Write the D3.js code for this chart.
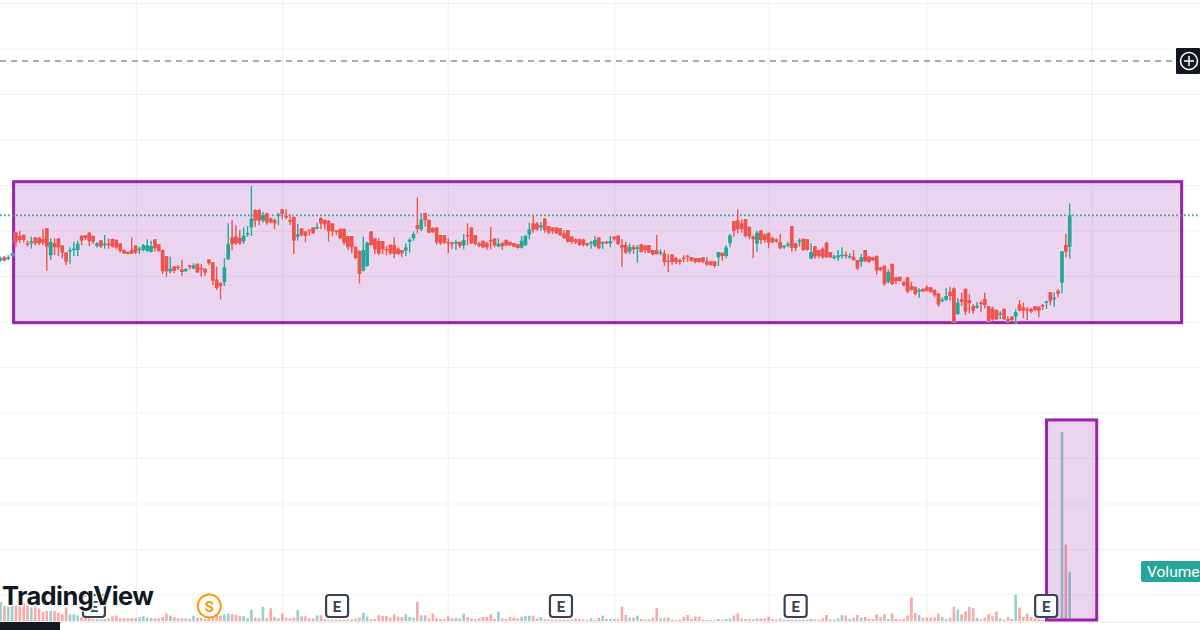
<!DOCTYPE html>
<html>
<head>
<meta charset="utf-8">
<script src="https://cdn.jsdelivr.net/npm/d3@7"></script>
<style>
html,body{margin:0;padding:0;background:#fff;overflow:hidden}
svg{display:block}
</style>
</head>
<body>
<svg id="chart" width="1200" height="630"></svg>
<script>
const opens=[230,238,234,245,313,302,306,280,280,297,
297,293,325,244,280,295,274,253,256,259,
260,303,305,312,303,272,289,276,279,293,
291,280,259,255,260,274,260,260,257,254,
292,277,260,242,196,211,210,202,196,214,
204,219,206,204,232,223,172,162,164,232,
298,300,296,286,308,328,380,380,348,370,
355,350,364,382,362,350,360,300,325,316,
321,328,324,356,350,348,340,318,324,324,
302,302,270,258,198,212,316,295,287,287,
263,276,275,264,260,258,284,295,335,322,
371,351,326,328,305,305,284,282,280,285,
274,305,328,305,280,288,282,290,295,270,
282,291,285,281,278,267,274,306,340,340,
328,355,332,328,328,326,310,320,300,292,
292,292,280,280,272,298,280,286,280,300,
303,275,275,255,270,263,278,273,275,260,
260,250,250,228,247,236,230,237,243,239,
236,236,238,226,226,226,238,252,242,280,
347,349,340,353,330,300,279,319,307,312,
296,292,284,270,276,332,280,287,294,293,
234,272,260,264,282,254,235,238,244,246,
239,240,230,224,260,240,238,243,208,213,
164,219,178,180,165,178,152,150,137,144,
148,148,140,130,108,110,135,145,68,112,
144,110,92,87,102,113,92,85,80,67,
84,53,60,60,97,88,83,83,92,90,
95,103,134,114,138,162,275,270];
const highs=[240,242,244,252,313,317,306,288,300,300,
300,322,325,295,295,295,274,253,268,285,
288,303,305,314,303,284,289,305,295,295,
291,280,262,255,298,274,270,278,292,288,
292,277,262,242,240,211,215,230,205,216,
220,219,218,206,232,223,210,162,235,340,
350,335,320,328,332,452,382,382,374,372,
358,355,372,382,382,368,360,338,325,316,
322,328,342,358,352,350,340,320,324,324,
302,302,270,258,300,285,316,295,295,287,
272,276,298,268,260,280,295,316,418,370,
372,351,328,328,305,305,295,285,290,285,
308,340,328,305,284,288,284,329,295,295,
282,291,285,281,278,302,305,342,366,344,
344,355,332,328,328,326,320,320,302,295,
295,294,282,288,302,298,286,286,302,302,
305,292,285,280,275,275,278,275,275,260,
305,262,260,248,247,240,234,244,245,239,
236,236,238,238,226,226,254,252,274,308,
347,382,352,353,330,304,318,319,310,312,
300,295,308,275,285,332,282,295,294,293,
280,272,260,268,285,254,245,260,268,256,
250,260,230,248,260,242,240,243,210,213,
202,219,180,180,165,180,165,150,145,144,
154,150,142,130,118,145,150,148,115,132,
144,128,98,104,108,132,92,90,82,76,
84,62,62,82,110,102,90,86,92,90,
98,108,134,132,142,256,308,400];
const lows=[225,227,230,240,270,282,282,270,264,274,
274,275,198,230,245,242,235,215,217,242,
242,274,290,272,278,267,265,264,264,267,
262,252,248,247,248,248,248,256,253,252,
255,255,188,180,190,190,200,182,194,202,
202,192,180,182,215,155,140,112,152,230,
260,275,275,278,300,302,330,334,342,336,
340,322,335,352,352,335,248,288,300,283,
303,308,322,322,322,285,302,305,292,275,
260,250,232,160,195,210,272,248,245,248,
244,245,235,245,238,242,252,288,310,317,
330,310,312,276,275,278,250,262,260,266,
262,275,278,274,268,265,260,262,268,268,
260,272,272,268,264,264,272,292,312,318,
318,312,308,308,308,302,293,282,278,278,
272,270,270,264,268,262,262,278,268,288,
275,210,248,248,248,222,252,250,250,244,
246,244,213,194,216,218,216,223,224,224,
220,222,220,213,213,207,212,228,235,268,
300,310,312,297,292,235,255,278,282,265,
280,282,262,262,268,255,257,270,257,258,
232,234,235,234,236,236,232,228,234,234,
234,228,200,210,224,222,227,186,196,152,
160,155,157,165,151,130,138,124,117,134,
135,132,118,90,103,108,108,42,66,92,
65,70,68,84,75,85,42,48,50,52,
50,42,44,38,76,56,50,70,76,58,
80,83,95,90,118,130,238,235];
const closes=[235,228,238,248,285,290,290,276,287,280,
280,282,270,284,268,268,252,225,260,264,
279,288,296,287,285,280,270,279,277,270,
267,257,250,248,249,252,264,274,274,272,
265,257,196,196,204,198,206,194,203,211,
214,192,202,192,220,168,146,152,208,278,
278,280,280,303,311,354,348,348,364,342,
343,340,367,368,357,345,288,307,305,302,
318,310,328,340,336,316,316,316,295,282,
268,268,236,188,260,282,275,262,250,262,
260,250,248,248,250,268,291,308,323,351,
350,312,313,283,280,282,280,280,284,272,
290,303,280,278,272,268,268,286,274,278,
271,274,274,270,266,288,303,322,320,322,
334,320,312,316,310,304,295,284,284,283,
275,275,274,284,290,265,284,280,287,292,
278,267,252,269,262,268,254,260,252,246,
248,254,224,224,224,224,224,233,240,228,
224,224,225,216,215,212,254,242,268,304,
317,322,323,302,300,292,312,290,290,282,
283,286,265,273,278,266,266,289,260,260,
254,240,242,238,238,238,240,244,246,244,
242,229,204,238,226,224,229,198,200,158,
194,158,166,167,153,135,140,128,140,136,
138,134,124,96,111,122,122,45,102,104,
75,100,78,93,99,95,47,52,52,70,
52,47,50,74,78,78,81,75,80,78,
90,106,108,117,129,256,255,364];
const volumes=[57,45,43,45,45,47,53,45,40,42,
37,27,30,30,30,25,20,40,20,20,
17,12,10,8,6,5,5,6,8,14,
16,8,8,8,9,9,12,14,10,9,
8,8,12,22,16,12,8,8,8,6,
15,10,9,6,8,12,22,16,20,22,
20,18,15,14,8,34,11,8,42,9,
38,12,8,22,10,8,10,33,14,14,
8,8,17,17,5,4,4,4,4,4,
4,5,7,10,25,13,5,5,17,15,
15,10,20,13,12,20,12,10,57,17,
17,8,22,8,6,6,13,8,10,8,
22,12,8,6,8,12,12,20,6,28,
8,6,12,10,8,13,15,16,16,8,
12,5,4,4,4,4,4,4,4,8,
6,5,3,8,3,10,16,6,6,6,
5,42,18,10,10,16,6,4,5,10,
38,8,10,10,4,3,4,13,18,7,
13,13,4,3,3,3,6,3,6,8,
16,22,8,6,6,5,8,8,8,13,
6,4,8,4,4,4,4,4,4,4,
6,4,4,8,18,4,4,8,18,16,
6,10,18,10,12,6,6,20,12,20,
6,22,6,4,6,16,70,24,18,10,
10,10,10,22,12,6,10,42,34,20,
28,42,38,10,6,10,20,14,28,8,
4,12,6,78,40,12,22,12,8,6,
4,4,4,4,4,564,228,146];

const gridLevels=[-775,-638.5,-502,-365.5,-229,-92.5,44,180.5,317,453.5,590,726.5,863,999.5];
const gridBars=[35.2,73.1,116,159.2,199.1,240,282.8];
const alertLevel=827;
const rangeBox={fromBar:3.4,toBar:306,top:465,bottom:42};
const volumeBox={fromBar:271,toBar:284,top:600,bottom:3};
const eventMarks=[{bar:24.2,label:"E"},{bar:54.1,label:"S"},{bar:87.2,label:"E"},{bar:145.2,label:"E"},{bar:206,label:"E"},{bar:270.9,label:"E"}];

const green="#26a69a", red="#ef5350";
const indexes=d3.range(closes.length);
const svg=d3.select("#chart");

const x=d3.scaleLinear().domain([0,277]).range([0.5,1069.7]);
const y=d3.scaleLinear().domain([0,500]).range([336.67,170]);
const v=d3.scaleLinear().domain([0,564]).range([621,432]);
const col=i=>closes[i]>=opens[i]?green:red;

// grid
svg.append("g").selectAll("line").data(gridLevels).join("line")
  .attr("x1",0).attr("x2",1200).attr("y1",d=>y(d)).attr("y2",d=>y(d))
  .attr("stroke","#f0f1f4").attr("stroke-width",1.2);
svg.append("g").selectAll("line").data(gridBars).join("line")
  .attr("x1",d=>x(d)).attr("x2",d=>x(d)).attr("y1",0).attr("y2",622)
  .attr("stroke","#f0f1f4").attr("stroke-width",1.2);

// alert line
svg.append("line").attr("x1",0).attr("x2",1176).attr("y1",y(alertLevel)).attr("y2",y(alertLevel))
  .attr("stroke","#555862").attr("stroke-width",1).attr("stroke-dasharray","6 5");

// volume bars
svg.append("g").selectAll("rect").data(indexes).join("rect")
  .attr("x",i=>x(i)-1.3).attr("width",2.6)
  .attr("y",i=>v(volumes[i])).attr("height",i=>v(0)-v(volumes[i]))
  .attr("fill",col).attr("fill-opacity",0.5);

// axis edge
svg.append("line").attr("x1",0).attr("x2",1200).attr("y1",622).attr("y2",622).attr("stroke","#e0e3eb");

// drawing boxes
function box(b,sy){
  svg.append("rect")
    .attr("x",x(b.fromBar)).attr("width",x(b.toBar)-x(b.fromBar))
    .attr("y",sy(b.top)).attr("height",sy(b.bottom)-sy(b.top))
    .attr("fill","#9c27b0").attr("fill-opacity",0.2)
    .attr("stroke","#9a22ae").attr("stroke-width",3);
}
box(rangeBox,y);
box(volumeBox,v);

// last price line
svg.append("line").attr("x1",0).attr("x2",1200)
  .attr("y1",y(closes[closes.length-1])).attr("y2",y(closes[closes.length-1]))
  .attr("stroke",green).attr("stroke-width",1.7).attr("stroke-dasharray","1.7 2.3");

// soft pale edge round the candles, then the candles
const halo=svg.append("g").attr("opacity",0.3);
halo.selectAll("line").data(indexes).join("line")
  .attr("x1",i=>x(i)).attr("x2",i=>x(i))
  .attr("y1",i=>y(highs[i])).attr("y2",i=>y(lows[i]))
  .attr("stroke","#fff").attr("stroke-width",3.4);
halo.selectAll("rect").data(indexes).join("rect")
  .attr("x",i=>x(i)-2.8).attr("width",5.6)
  .attr("y",i=>y(Math.max(opens[i],closes[i]))-1)
  .attr("height",i=>Math.abs(y(opens[i])-y(closes[i]))+2)
  .attr("fill","#fff");
const candles=svg.append("g");
candles.selectAll("line").data(indexes).join("line")
  .attr("x1",i=>x(i)).attr("x2",i=>x(i))
  .attr("y1",i=>y(highs[i])).attr("y2",i=>y(lows[i]))
  .attr("stroke",col).attr("stroke-width",1.5);
candles.selectAll("rect").data(indexes).join("rect")
  .attr("x",i=>x(i)-1.9).attr("width",3.8)
  .attr("y",i=>y(Math.max(opens[i],closes[i])))
  .attr("height",i=>Math.max(1.5,Math.abs(y(opens[i])-y(closes[i]))))
  .attr("fill",col);

// event marks
eventMarks.forEach(m=>{
  const g=svg.append("g").attr("transform",`translate(${x(m.bar)},606)`);
  const c=m.label==="S"?"#ff9800":"#3c4150";
  if(m.label==="S") g.append("circle").attr("r",11.5).attr("fill","#fff").attr("stroke",c).attr("stroke-width",2);
  else g.append("rect").attr("x",-11).attr("y",-11).attr("width",22).attr("height",22).attr("rx",3)
    .attr("fill","#fff").attr("stroke",c).attr("stroke-width",2.2);
  g.append("text").attr("text-anchor","middle").attr("y",5.5).attr("font-family","Roboto, sans-serif")
    .attr("font-weight",700).attr("font-size",15).attr("fill",c).text(m.label);
});

// plus button
const plus=svg.append("g");
plus.append("rect").attr("x",1176).attr("y",48).attr("width",24).attr("height",26).attr("fill","#131722").attr("rx",1);
plus.append("circle").attr("cx",1189).attr("cy",61).attr("r",8.5).attr("fill","none").attr("stroke","#fff").attr("stroke-width",1.5);
plus.append("path").attr("d","M1184 61H1194M1189 56V66").attr("stroke","#fff").attr("stroke-width",1.5);

// volume label
svg.append("rect").attr("x",1141).attr("y",561).attr("width",62).attr("height",21).attr("rx",2).attr("fill",green);
svg.append("text").attr("x",1147).attr("y",576.5).attr("font-family","Roboto, sans-serif")
  .attr("font-size",15.5).attr("fill","#fff").text("Volume");

// logo
svg.append("text").attr("x",2).attr("y",604.5).attr("font-family","Inter, sans-serif")
  .attr("font-weight",700).attr("font-size",25.5).attr("letter-spacing",-0.6)
  .attr("fill","#131722").attr("stroke","#fff").attr("stroke-width",2.5).attr("paint-order","stroke")
  .text("TradingView");
svg.append("rect").attr("x",0).attr("y",622).attr("width",60).attr("height",8).attr("fill","#131722");
</script>
</body>
</html>
